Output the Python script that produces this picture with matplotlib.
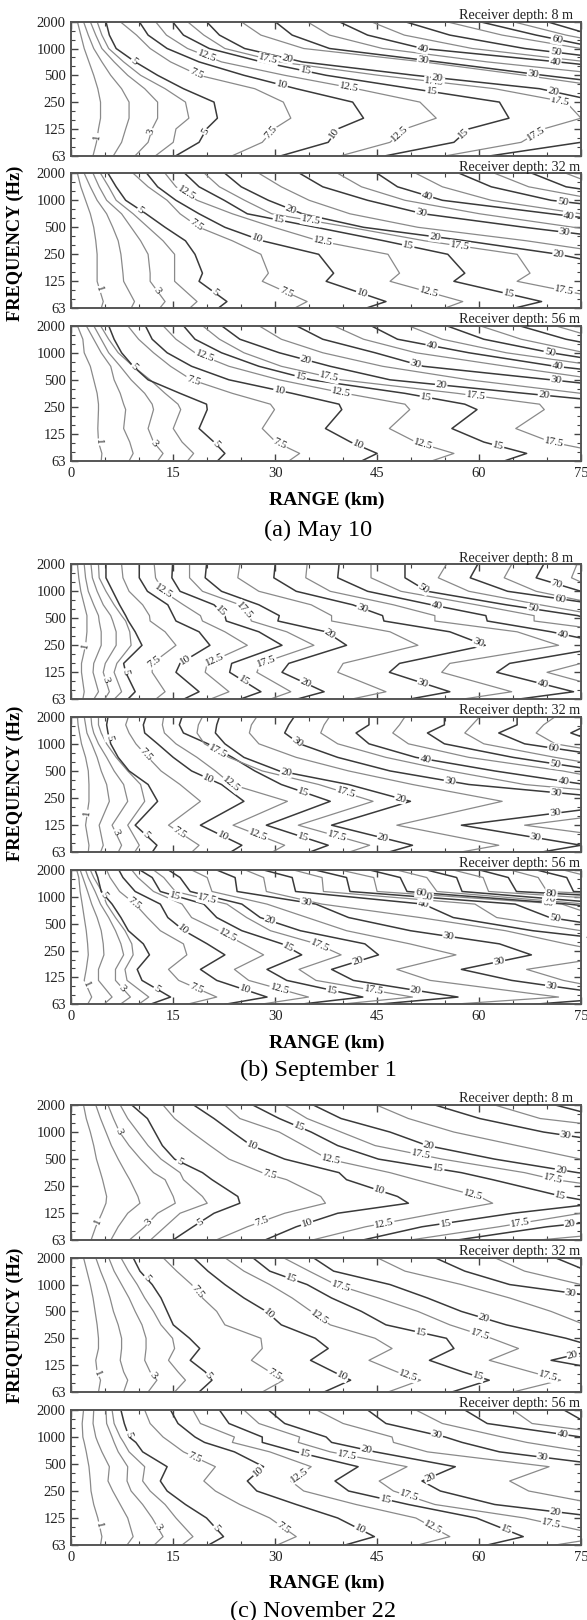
import numpy as np
import matplotlib
matplotlib.use('Agg')
import matplotlib.pyplot as plt
from matplotlib.ticker import FixedLocator

plt.rcParams['font.family'] = ['Liberation Serif', 'DejaVu Serif']

FREQ_LABELS = ['63', '125', '250', '500', '1000', '2000']
RANGE_TICKS = [0, 15, 30, 45, 60, 75]
DARK_LEVELS = [5, 10, 15, 20, 30, 40, 50, 60, 70, 80, 90]

# contour lines: level -> range (km) at each knot, knots are octaves above 63 Hz
OCT_A8 = [5, 4.5, 4, 3.5, 3, 2.5, 2, 1.4, 1, .5, 0]
RANGE_A8 = {
    1: [.9, 1.4, 1.9, 2.6, 3.3, 3.9, 4.3, 4.3, 4, 3.7, 3.2],
    2: [1.8, 2.5, 3.3, 4.5, 5.8, 7.4, 8.5, 8.5, 8, 7.4, 6.2],
    3: [2.8, 3.6, 4.5, 6.3, 8.3, 10.8, 12.7, 12.7, 11.9, 11.3, 9.4],
    4: [3.8, 4.5, 5.5, 7.7, 10.2, 13.8, 16.8, 17.3, 15.4, 15, 12.4],
    5: [5.1, 5.6, 6.6, 9.4, 12.7, 16.5, 21, 21.5, 19.9, 18.8, 15.4],
    7.5: [7.2, 9.6, 11.6, 14.6, 18.8, 27, 31.2, 32.3, 29.8, 28.1, 23.7],
    10: [10, 11.3, 14.1, 18.8, 25.4, 33.1, 41.4, 43, 39.2, 37.8, 30.9],
    12.5: [12.4, 14, 17.1, 22.1, 31.4, 41.9, 51.3, 53.7, 49.1, 46.9, 39.7],
    15: [14.9, 16.5, 20.3, 28, 37.5, 50.2, 63, 64.4, 58.5, 56.3, 46.3],
    17.5: [17.1, 19.5, 22.6, 30.6, 45.2, 62.3, 72.8, 75, 69.5, 66.2, 55.2],
    20: [19.9, 21.8, 25.5, 34, 50.5, 68.9, 78, 83, 79, 75, 61.8],
    25: [25, 27.9, 34.2, 51.8, 66.7, 80.5],
    30: [30, 32.5, 38, 54, 69.5, 86],
    35: [34.7, 38, 45.8, 61.2, 80],
    40: [39.4, 43.6, 51.7, 71.6, 90],
    45: [44.1, 49, 59, 76, 90],
    50: [49.1, 55.7, 66.7, 83],
    55: [55.2, 63.4, 75, 90],
    60: [60.1, 68.4, 78],
    65: [65, 72.8, 83],
    70: [70, 76.7],
}
LABEL_A8 = [(1, .71), (3, .9), (5, .9), (5, 3.53), (7.5, .87), (7.5, 3.05), (10, .83), (10, 2.64),
            (12.5, .83), (12.5, 3.72), (12.5, 2.55), (15, .83), (15, 3.16), (15, 2.39), (17.5, .83),
            (17.5, 3.6), (17.5, 2.76), (17.5, 2.04), (20, 3.63), (20, 2.91), (20, 2.39), (30, 3.57),
            (30, 3.05), (40, 4), (40, 3.51), (50, 3.86), (60, 4.34)]

OCT_A32 = [5, 4.5, 4, 3.5, 3, 2.5, 2, 1.3, 1, .25, 0]
RANGE_A32 = {
    1: [.9, 1.4, 2.1, 2.8, 3.3, 3.6, 3.8, 3.8, 3.8, 4.7, 4.4],
    2: [1.9, 2.8, 3.8, 5.2, 6.1, 6.9, 7.3, 7.6, 7.7, 9.3, 8.8],
    3: [3.2, 4.1, 5.2, 7.4, 8.8, 10.2, 11.3, 11.6, 11.6, 13.8, 13],
    4: [4.3, 5.5, 6.6, 9.1, 11.3, 13.5, 15.2, 15.2, 15.2, 18.5, 17.4],
    5: [5.4, 6.6, 8, 11, 13.8, 16.8, 18.2, 19.3, 18.8, 22.9, 21.6],
    7.5: [9.1, 11.3, 14.1, 16, 18.8, 23.7, 27.9, 29, 28.1, 34.7, 32.8],
    10: [11.1, 12.7, 15.4, 18.8, 22.6, 28.1, 36.4, 38.6, 37.5, 46.3, 43.3],
    12.5: [13.8, 15.4, 18.5, 23.7, 29.8, 36.4, 46.6, 48.3, 46.9, 57.6, 54.9],
    15: [16.7, 18.8, 22.5, 25.9, 36, 46, 55.4, 57.9, 56.3, 69.2, 65.1],
    17.5: [19.6, 21.8, 25.5, 29.5, 41, 52, 65.6, 67.5, 65.6, 80.5, 83],
    20: [22.6, 25, 29, 34, 43, 58, 71.7, 85],
    25: [27.6, 30.9, 35, 41, 51, 67, 80.5],
    30: [33.6, 37, 43.6, 51.8, 66.7, 83],
    35: [39.2, 42.7, 49.1, 60.1, 73.9, 90],
    40: [45, 48, 54.6, 70.6, 87],
    45: [50.7, 54.6, 61.8, 75, 90],
    50: [57.1, 61.8, 70.6, 88],
    55: [62.3, 67.3, 78],
    60: [67.8, 72.8, 86],
    65: [72.8, 78],
}
LABEL_A32 = [(1, .7), (3, .64), (5, .58), (5, 3.64), (7.5, .6), (7.5, 3.08), (10, .55), (10, 2.57),
             (12.5, .6), (12.5, 4.26), (12.5, 2.47), (15, .53), (15, 3.27), (15, 2.31), (17.5, .65),
             (17.5, 3.25), (17.5, 2.31), (20, 3.67), (20, 2.65), (20, 2.0), (30, 3.52), (30, 2.82),
             (40, 4.17), (40, 3.42), (50, 3.95)]

OCT_A56 = [5, 4.5, 4, 3.5, 3, 2.5, 2.1, 1.9, 1.2, .7, .28, 0]
RANGE_A56 = {
    1: [.9, 1.7, 1.9, 2.8, 3.3, 3.8, 4, 4, 3.9, 4, 4.5, 4.4],
    2: [2.2, 3.3, 4.4, 5.8, 6.3, 7.2, 7.7, 8, 7.7, 8.6, 9.1, 8.5],
    3: [3.3, 4.4, 5.5, 7.2, 8.8, 10.8, 11.9, 12.1, 11.3, 12.1, 13.5, 12.7],
    4: [4.3, 5.5, 6.9, 9.1, 11.6, 13.8, 15.7, 16.1, 15, 16.3, 18, 17.1],
    5: [5.5, 6.3, 7.4, 9.1, 11.3, 16, 19.9, 20, 18.8, 21, 22.6, 21.5],
    7.5: [8.3, 9.9, 12.1, 14.6, 17.7, 23.7, 29.3, 29.9, 28.1, 30.1, 33.6, 32],
    10: [10.9, 11.9, 14.1, 17.7, 23.2, 32.5, 39.4, 39.8, 37.4, 41.1, 45, 42.7],
    12.5: [13.5, 15.4, 18.2, 23.2, 30.6, 40.3, 49.1, 49.8, 46.8, 50.7, 56.3, 53],
    15: [16.5, 18.2, 22.1, 27.6, 35.3, 49.1, 57.9, 59.7, 56, 60.7, 67, 63.7],
    17.5: [19.3, 21.8, 25.4, 30.9, 39.7, 56.8, 68.9, 69.6, 65.4, 70.6, 78.9, 83],
    20: [22.1, 24.8, 30.6, 38.1, 46.9, 66.7, 83],
    25: [27.6, 30.9, 37, 45.8, 58.5, 75, 90],
    30: [33.1, 37, 44.7, 51.8, 70.6, 89],
    35: [38.6, 43, 50.7, 64, 78],
    40: [44.1, 48, 58.5, 71.2, 89],
    45: [49.6, 54.6, 64, 78],
    50: [55.2, 60.7, 70.6, 83],
    55: [60.1, 66.2, 75.6],
    60: [65.9, 72.8, 83],
    65: [71.2, 78],
}
LABEL_A56 = [(1, .7), (3, .65), (5, .62), (5, 3.47), (7.5, .63), (7.5, 2.98), (10, .58), (10, 2.6),
             (12.5, .62), (12.5, 3.86), (12.5, 2.53), (15, .56), (15, 3.1), (15, 2.36), (17.5, .68),
             (17.5, 3.1), (17.5, 2.41), (20, 3.74), (20, 2.81), (20, 2.43), (30, 3.58), (30, 2.98),
             (40, 4.26), (40, 3.49), (50, 4.01)]

OCT_B8 = [5, 4.5, 4, 3.5, 3.1, 2.9, 2.5, 2, 1.33, 1, .28, 0]
RANGE_B8 = {
    1: [.9, 1.1, 1.4, 1.9, 2.3, 2.3, 2.3, 2.1, 1.5, 1.5, 1.9, 1.7],
    2: [1.9, 2.1, 2.5, 3.3, 4, 4.1, 4.4, 4.4, 3.3, 3.2, 4, 3.3],
    3: [2.9, 3.1, 3.8, 4.7, 5.8, 6.1, 6.6, 6.6, 5, 4.7, 5.6, 4.9],
    4: [4, 4.1, 5.1, 6.3, 7.4, 8, 8.6, 8.8, 6.7, 6.3, 7.4, 6.3],
    5: [5.1, 5.1, 6.1, 7.1, 8, 8.4, 9.4, 10.4, 7.7, 8, 9.4, 8.3],
    7.5: [7.4, 7.6, 8.5, 10.5, 11.5, 11.6, 13.8, 15.4, 11.9, 11.9, 13.8, 12.4],
    10: [10, 10, 11.2, 14.2, 15, 15.4, 18.8, 20.4, 16, 15.4, 18.8, 16.5],
    12.5: [12.2, 12.4, 13.5, 16.5, 19, 19.3, 22.6, 25.9, 20, 19.7, 23.2, 20.4],
    15: [14.9, 14.8, 16, 21, 22.6, 22.8, 27.6, 31, 23.6, 23.3, 27.9, 24.8],
    17.5: [17.4, 17.4, 19.3, 24.8, 26.2, 26.5, 31.7, 35.7, 27.9, 27.3, 32.3, 29.2],
    20: [19.9, 19.7, 22.1, 27.6, 30.6, 30.4, 37.5, 40.5, 32, 31, 37.2, 33.1],
    25: [24.8, 24.5, 27.6, 35.3, 38.3, 38.3, 46.9, 51, 40, 39.2, 46.3, 41.1],
    30: [30, 29.8, 33.1, 41.4, 45.8, 46, 55.7, 60.9, 48.3, 46.8, 55.7, 49.6],
    35: [34.7, 34.5, 38.1, 47.4, 53.5, 53.5, 65.6, 71.7, 55.7, 54.5, 64.8, 57.4],
    40: [39.4, 39.2, 43.6, 53, 61, 61.2, 70.6, 80, 64.5, 62.6, 73.9, 65.6],
    45: [44.1, 44.1, 48.5, 59.6, 68.1, 68.1, 80.5, 89, 75, 70, 80.5, 80],
    50: [49.1, 49.1, 52.4, 64, 74.5, 77, 90],
    55: [55.2, 54, 58.5, 69, 78],
    60: [59.8, 58.7, 64.2, 78],
    65: [64.8, 63.7, 68.4, 78],
    70: [69.5, 68.4, 75, 90],
    75: [74.4, 73.6, 78],
}
LABEL_B8 = [(1, 1.98), (3, .72), (5, 1.02), (7.5, 1.4), (10, 1.46), (12.5, 1.46), (12.5, 3.99), (15, .68),
            (15, 3.25), (17.5, 1.4), (17.5, 3.3), (20, .6), (20, 2.41), (30, .6), (30, 3.37), (30, 2.1),
            (40, .57), (40, 3.46), (40, 2.41), (50, 4.09), (50, 3.35), (60, 3.72), (70, 4.27)]

OCT_B32 = [5, 4.7, 4.4, 4, 3.5, 3, 2.5, 1.88, 1, .26, 0]
RANGE_B32 = {
    1: [.9, 1, 1.2, 1.5, 2.1, 2.5, 2.6, 2.6, 2.1, 2.6, 2.5],
    2: [1.9, 2.1, 2.3, 3, 3.8, 4.4, 5.2, 5.6, 4.1, 4.7, 4.3],
    3: [2.9, 3, 3.3, 4, 5.2, 6.3, 7.7, 8.3, 6, 7.4, 6.9],
    4: [4, 4, 4.4, 5.2, 6.6, 8.3, 10.2, 10.8, 8.3, 10, 9.3],
    5: [5.4, 5.2, 5.4, 5.8, 6.9, 8.5, 11.3, 12.7, 9.4, 12.6, 11.9],
    7.5: [8.4, 8, 8.5, 9.5, 11.3, 13.2, 16, 19, 14.3, 18.8, 17.7],
    10: [11, 10.6, 10.8, 12.7, 15, 17.7, 22.1, 25.4, 19, 25.1, 23.4],
    12.5: [13.6, 13.4, 13.7, 15.4, 18.5, 21.2, 23.6, 31.8, 23.8, 31.4, 29.5],
    15: [16.3, 15.9, 16.5, 20.1, 23.7, 27, 30.9, 38.1, 28.7, 37.8, 35],
    17.5: [19.3, 18.7, 18.5, 19.6, 23.2, 28.1, 36.4, 44.4, 33.4, 43.9, 40.8],
    20: [21.8, 21.4, 21.2, 22.6, 25.4, 30.6, 40.8, 49.9, 38.3, 50.2, 46.6],
    25: [27.3, 26.5, 26.2, 27.6, 33.1, 40.8, 50.2, 63.4, 47.9, 62.9, 57.1],
    30: [32.8, 32, 31.4, 33.6, 39.2, 46.9, 58.5, 85, 57.4, 75, 69],
    35: [38, 37.2, 36.7, 39.2, 46.3, 55.7, 66.7, 94, 66.7, 89],
    40: [43.8, 43.8, 41.9, 43.8, 50.7, 62.3, 75.6, 90],
    45: [49.1, 48.3, 47.3, 49.6, 58.5, 72.3, 83],
    50: [54.9, 54.9, 52.4, 54.9, 65, 78],
    55: [60.1, 59, 57.9, 60.7, 71.2, 83],
    60: [65.6, 65.6, 62.9, 66.7, 80],
    65: [71.2, 69.5, 68.4, 71.2, 83],
    70: [80, 76, 73.5, 78],
}
LABEL_B32 = [(1, 1.44), (3, .73), (5, .64), (5, 4.22), (7.5, .73), (7.5, 3.6), (10, .6), (10, 2.72),
             (12.5, .64), (12.5, 2.52), (15, .56), (15, 2.22), (17.5, .6), (17.5, 3.73), (17.5, 2.19),
             (20, .53), (20, 2.95), (20, 1.98), (30, 1.44), (30, .54), (30, 4.07), (30, 2.62), (30, 2.2),
             (40, 3.44), (40, 2.62), (50, 3.26), (60, 3.84)]

OCT_B56 = [5, 4.72, 4.2, 3.73, 3.23, 2.74, 2.25, 1.84, 1.3, .89, .27, 0]
RANGE_B56 = {
    1: [.8, 1.1, 1.3, 1.6, 1.9, 2.2, 2.4, 2.5, 2.2, 1.9, 3, 2.4],
    2: [1.3, 1.7, 2.4, 3, 3.8, 4.4, 4.7, 4.8, 4, 4, 6, 4.8],
    3: [2.1, 2.5, 3.5, 4.3, 5.5, 6.5, 7.3, 7.7, 6.5, 6.5, 8.7, 7.2],
    4: [2.8, 3.3, 4.5, 5.2, 6.5, 7.9, 8.9, 9.1, 7.9, 8.2, 11.4, 9.9],
    5: [3.5, 3.9, 4.4, 6, 7.3, 8.4, 10.6, 11.5, 9.7, 10.4, 14.6, 11.6],
    7.5: [5.2, 5.7, 7.1, 9.4, 11.2, 13.1, 16.5, 17, 14.3, 15.8, 21.4, 17],
    10: [7, 7.6, 9.4, 13.1, 14.2, 16.6, 20, 22.6, 19, 21.4, 28.8, 22.6],
    12.5: [8.9, 9.8, 12.1, 16.3, 17.7, 21.7, 25.3, 28.3, 24, 26.1, 34.9, 27.8],
    15: [10.1, 11.9, 13.1, 19.5, 21.4, 25.1, 31, 33.9, 28.8, 31.7, 42.9, 33.6],
    17.5: [12.1, 13.6, 15.3, 22.9, 25.8, 29.3, 36.1, 39.7, 33.5, 36, 50.2, 39.5],
    20: [14.3, 16, 17.5, 25.1, 27.8, 33.7, 43.2, 45.2, 38.3, 41.5, 56.9, 45],
    25: [17.7, 20, 20.7, 28.8, 34.7, 40.5, 49.8, 56.6, 47.9, 52.8, 71.7, 56],
    30: [21.4, 24.1, 24.4, 36, 40.8, 49.9, 63, 67.7, 57.4, 64.8, 82, 68],
    35: [25.6, 28.3, 28.7, 36.9, 51.3, 63.9, 72.8, 81, 67, 72.4, 85],
    40: [28.3, 32.5, 33, 51.8, 56.2, 67.9, 85],
    45: [32.7, 36.9, 37.1, 59.4, 62.6, 75, 90],
    50: [35.9, 40.5, 41, 65.3, 70.4, 83],
    55: [39.6, 44.5, 45, 72.2, 78],
    60: [43.9, 48.4, 49.4, 73.2, 90],
    65: [47.9, 52.3, 53.8, 75.8, 90],
    70: [52.3, 56.7, 57.5, 80],
    75: [56.2, 60.6, 61.4, 90],
    80: [60.1, 64.3, 65.5, 100],
    85: [64.6, 68.7, 70, 110],
    90: [68.5, 72.9, 73.9, 120],
    95: [72.4, 76.8],
}
LABEL_B56 = [(1, .73), (3, .6), (5, .57), (5, 4.06), (7.5, .6), (7.5, 3.77), (10, .54), (10, 2.77),
             (12.5, .57), (12.5, 2.56), (15, 4.04), (15, 2.12), (15, .52), (17.5, 3.91), (17.5, 2.19),
             (17.5, .52), (20, 3.11), (20, 1.6), (20, .52), (30, 3.79), (30, 2.53), (30, 1.59), (30, .68),
             (40, 3.73), (40, 2.49), (50, 3.98), (50, 3.2), (60, 4.16), (60, 3.79), (70, 3.93), (80, 4.13)]

OCT_C8 = [5, 4.5, 4, 3.5, 3, 2.5, 2.24, 1.62, 1.37, 1, .5, 0]
RANGE_C8 = {
    1: [1.8, 2.2, 2.8, 3.3, 3.7, 4.3, 4.6, 5.2, 5.1, 4.5, 3.6, 2.9],
    2: [3.6, 4.3, 5.1, 5.9, 6.9, 8, 8.6, 9.8, 10.1, 8.3, 6.9, 5.8],
    3: [5.4, 6.2, 7.1, 8.5, 10.2, 12.1, 13.8, 15, 15.3, 12.7, 10.8, 8.5],
    4: [7.2, 8.3, 9.8, 11.3, 13.2, 16, 16.5, 19.3, 20, 16, 13.8, 11.6],
    5: [8.9, 11.2, 12.3, 13.4, 15.2, 19.3, 20.7, 24.5, 24.8, 21, 17.9, 14.9],
    7.5: [13.5, 15.2, 17.7, 20.4, 23.2, 28.1, 31.7, 36.7, 37.4, 31.4, 25.9, 21.2],
    10: [18, 21, 23.7, 26.5, 31.4, 39.4, 40.5, 48, 49.6, 39.2, 33.1, 28.4],
    12.5: [22.6, 24.8, 30.6, 34.2, 37.8, 46.9, 50.7, 60, 62, 53.8, 43.3, 35.3],
    15: [26.7, 30.6, 35.3, 39.2, 45.2, 57.4, 62, 72.3, 77.8, 65, 51.6, 42.7],
    17.5: [31.4, 34.7, 39.7, 44.7, 54.6, 66.7, 71.2, 88.8, 94, 75, 62.9, 49.6],
    20: [35.6, 39.7, 46.9, 52.4, 62.3, 74.5, 83, 94, 97, 88.8, 70, 56.5],
    25: [44.9, 49.6, 56.3, 65.6, 75, 88.8, 95, 100, 100, 100, 90, 68.4],
    30: [53.5, 60.1, 69.5, 83],
    35: [62.3, 69, 86],
    40: [71.2, 78.9],
}
LABEL_C8 = [(1, .69), (3, 4.02), (3, .67), (5, 2.91), (5, .67), (7.5, 2.42), (7.5, .69), (10, 3.49),
            (10, 1.84), (10, .63), (12.5, 2.98), (12.5, 1.68), (12.5, .63), (15, 4.19), (15, 2.64),
            (15, 1.64), (15, .63), (17.5, 3.16), (17.5, 2.26), (17.5, .63), (20, 3.49), (20, 2.6),
            (20, .59), (30, 3.88)]

OCT_C32 = [5, 4.5, 4, 3.5, 3, 2.5, 2, 1.62, 1.18, .75, .44, 0]
RANGE_C32 = {
    1: [1.8, 2.3, 2.8, 3.2, 3.5, 3.8, 4, 4, 3.6, 3.8, 4.3, 4],
    2: [3.6, 4.3, 5.1, 5.7, 6.2, 6.9, 7.4, 7.4, 7.2, 7.7, 8.3, 7.7],
    3: [5.5, 6.3, 7.4, 8.5, 9.4, 10.4, 11, 11, 10.8, 11.6, 12.6, 11.3],
    4: [7.3, 8.4, 9.7, 10.8, 12.1, 13.2, 14.9, 15.2, 14.3, 15.7, 16.8, 15.2],
    5: [9.1, 10.1, 11.9, 13.2, 14.1, 15, 17.4, 18.9, 17.5, 19.7, 20.7, 18.8],
    7.5: [13.5, 15.5, 17.7, 19.3, 21.4, 22.6, 27.9, 28.1, 26.5, 29.2, 31.2, 28.1],
    10: [18, 20.1, 22.6, 25.4, 28.7, 30.9, 35.9, 37.8, 35.2, 38.6, 41.1, 37.2],
    12.5: [22.6, 25.4, 29.2, 32.5, 35.3, 38.1, 44.7, 47.2, 43.8, 47.9, 51.4, 46.6],
    15: [26.7, 29.2, 34.7, 38.3, 42.7, 46.3, 55.2, 56.3, 52.7, 57.6, 61.5, 56],
    17.5: [31.2, 35, 38.9, 45.2, 51, 55.7, 61.8, 65.8, 61.5, 67.6, 72, 65],
    20: [35.6, 38.6, 46.9, 52.4, 57.4, 64, 72.8, 78, 70.6, 80, 83, 80],
    25: [45, 49.1, 57.4, 64.5, 70.6, 75.6, 90],
    30: [53.5, 57.9, 64.5, 79],
    35: [62.3, 66.7, 75, 78],
    40: [71.2, 76],
}
LABEL_C32 = [(1, .69), (3, .63), (5, .6), (5, 4.23), (7.5, .65), (7.5, 3.74), (10, .59), (10, 2.91),
             (12.5, .6), (12.5, 2.79), (15, .57), (15, 4.21), (15, 2.21), (17.5, .57), (17.5, 3.94),
             (17.5, 2.14), (20, 2.75), (20, 1.37), (30, 3.69)]

OCT_C56 = [5, 4.5, 4, 3.8, 3.45, 2.9, 2.37, 2, 1.5, 1, .31, 0]
RANGE_C56 = {
    1: [1.8, 1.6, 1.7, 1.9, 2.2, 2.6, 2.8, 2.9, 3.3, 3.9, 4.5, 4.3],
    2: [3.3, 3.2, 3.6, 3.9, 4.5, 5.6, 5.4, 6.1, 7.2, 8.3, 9.1, 8.2],
    3: [5.1, 5.2, 6, 6.3, 6.9, 8.3, 8.2, 8.8, 10.5, 11.9, 13.5, 12.2],
    4: [6, 6.3, 7.2, 7.7, 8.5, 10.8, 10.5, 11.6, 13.8, 15.4, 17.9, 16.3],
    5: [7.3, 7.8, 8.5, 9.5, 10.5, 14.1, 13.1, 14.1, 16.8, 19.9, 22.4, 20.2],
    7.5: [10.8, 11.6, 13.5, 14.6, 16.5, 21.2, 19.5, 21.2, 24.8, 29.2, 33.1, 30.3],
    10: [14.6, 15.7, 18.2, 19.6, 24, 28.3, 25.9, 27.3, 33.1, 39.2, 44.6, 40.3],
    12.5: [17.9, 19, 24, 23.7, 29.2, 35.3, 32.3, 34.2, 41.9, 50.7, 55.7, 51],
    15: [21.8, 23.2, 28.1, 28.1, 33.1, 42.2, 38.8, 40.8, 49.6, 59.6, 66.5, 61.2],
    17.5: [25.4, 27.6, 33.6, 33.4, 38.1, 49.4, 45.3, 47.4, 53.5, 66.7, 79, 71.2],
    20: [29, 31.4, 37.5, 38.3, 44.7, 56.5, 51.6, 54.3, 62.3, 78.9, 89],
    25: [36.1, 40, 47.2, 47.4, 52.4, 70.3, 64.5, 67.3, 77.8, 89],
    30: [43.6, 46.3, 55, 57.5, 63, 80.5, 85],
    35: [50.7, 54.6, 63.4, 67, 75.6, 90],
    40: [57.9, 61.2, 75, 83],
    45: [65, 67.8, 83],
    50: [72.5, 76],
}
LABEL_C56 = [(1, .74), (3, .65), (5, .62), (5, 4.1), (7.5, .65), (7.5, 3.25), (10, .58), (10, 2.72),
             (12.5, .65), (12.5, 2.59), (15, .56), (15, 1.69), (15, 3.37), (17.5, .78), (17.5, 3.33),
             (17.5, 1.81), (20, 3.52), (20, 2.5), (20, 1.23), (30, 4.07), (30, 3.25), (40, 4.1)]

PANELS = [
    (OCT_A8, RANGE_A8, LABEL_A8, 'Receiver depth: 8 m', 21.7, 155.7),
    (OCT_A32, RANGE_A32, LABEL_A32, 'Receiver depth: 32 m', 173.3, 308.3),
    (OCT_A56, RANGE_A56, LABEL_A56, 'Receiver depth: 56 m', 325.7, 461),
    (OCT_B8, RANGE_B8, LABEL_B8, 'Receiver depth: 8 m', 564.3, 699.3),
    (OCT_B32, RANGE_B32, LABEL_B32, 'Receiver depth: 32 m', 716.7, 852.3),
    (OCT_B56, RANGE_B56, LABEL_B56, 'Receiver depth: 56 m', 870, 1004.3),
    (OCT_C8, RANGE_C8, LABEL_C8, 'Receiver depth: 8 m', 1105, 1240.3),
    (OCT_C32, RANGE_C32, LABEL_C32, 'Receiver depth: 32 m', 1257.7, 1392),
    (OCT_C56, RANGE_C56, LABEL_C56, 'Receiver depth: 56 m', 1410, 1545),
]

figW, figH = 587, 1620
fig = plt.figure(figsize=(figW / 100, figH / 100), dpi=100)
left, right = 71.3, 581


def labelAngle(ax, xs, ys, y0):
    # slope of the line around the label, in screen pixels
    i = np.searchsorted(-np.array(ys), -y0)
    i = min(max(i, 1), len(ys) - 1)
    p = ax.transData.transform([(xs[i - 1], ys[i - 1]), (xs[i], ys[i])])
    ang = np.degrees(np.arctan2(p[1, 1] - p[0, 1], p[1, 0] - p[0, 0]))
    if ang > 90:
        ang -= 180
    if ang <= -90:
        ang += 180
    return ang


for n, (octs, ranges, labels, depth, top, bottom) in enumerate(PANELS):
    ax = fig.add_axes([left / figW, 1 - bottom / figH, (right - left) / figW, (bottom - top) / figH])
    ax.set_xlim(0, 75)
    ax.set_ylim(0, 5)

    for level, xs in ranges.items():
        dark = level in DARK_LEVELS
        ax.plot(xs, octs[:len(xs)], color='#3a3a3a' if dark else '#8a8a8a',
                lw=1.1 if dark else 0.9, solid_joinstyle='round', zorder=2)

    for level, y0 in labels:
        xs = ranges[level]
        ys = octs[:len(xs)]
        x0 = np.interp(y0, ys[::-1], xs[::-1])
        ax.text(x0, y0, f'{level:g}', fontsize=8, color='#222222', ha='center', va='center',
                rotation=labelAngle(ax, xs, ys, y0), rotation_mode='anchor', zorder=3,
                bbox=dict(facecolor='white', edgecolor='none', pad=0.6), clip_on=False)

    ax.set_yticks(range(6))
    ax.set_yticklabels(FREQ_LABELS)
    ax.yaxis.set_minor_locator(FixedLocator(np.arange(0, 5.01, 1 / 3)))
    ax.set_xticks(RANGE_TICKS)
    ax.xaxis.set_minor_locator(FixedLocator(np.arange(0, 76, 5)))
    ax.tick_params(which='major', direction='in', top=True, right=True, length=5, width=1.0,
                   color='#444444', labelsize=10.5, labelcolor='#222222', pad=4)
    ax.tick_params(which='minor', direction='in', top=True, right=True, length=3, width=0.8, color='#444444')
    if n % 3 != 2:
        ax.tick_params(which='both', labelbottom=False)
    for sp in ax.spines.values():
        sp.set_linewidth(1.4)
        sp.set_color('#555555')
    ax.text(57.1, 4.99, depth, fontsize=10.2, color='#222222', ha='left', va='bottom', clip_on=False)

fig.text(327 / figW, 1 - 500 / figH, 'RANGE (km)', fontsize=14, fontweight='bold', ha='center', va='center')
fig.text(327 / figW, 1 - 1043 / figH, 'RANGE (km)', fontsize=14, fontweight='bold', ha='center', va='center')
fig.text(327 / figW, 1 - 1583 / figH, 'RANGE (km)', fontsize=14, fontweight='bold', ha='center', va='center')
fig.text(318 / figW, 1 - 530 / figH, '(a) May 10', fontsize=17.5, ha='center', va='center')
fig.text(318 / figW, 1 - 1070 / figH, '(b) September 1', fontsize=17.5, ha='center', va='center')
fig.text(313 / figW, 1 - 1611 / figH, '(c) November 22', fontsize=17.5, ha='center', va='center')
for yc in [243, 783, 1325]:
    fig.text(15 / figW, 1 - yc / figH, 'FREQUENCY (Hz)', fontsize=13.2, fontweight='bold',
             rotation=90, ha='center', va='center')

fig.savefig('out.png', dpi=100)
